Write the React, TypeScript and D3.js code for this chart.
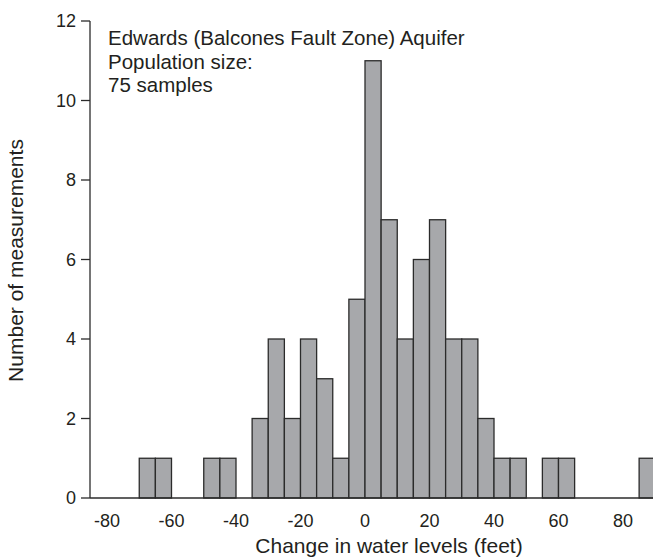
import React from "react";
import * as d3 from "d3";

const binStarts = [-70, -65, -50, -45, -35, -30, -25, -20, -15, -10, -5, 0, 5, 10, 15, 20, 25, 30, 35, 40, 45, 55, 60, 85];
const counts = [1, 1, 1, 1, 2, 4, 2, 4, 3, 1, 5, 11, 7, 4, 6, 7, 4, 4, 2, 1, 1, 1, 1, 1];
const binWidth = 5;
const xTicks = [-80, -60, -40, -20, 0, 20, 40, 60, 80];
const yTicks = [0, 2, 4, 6, 8, 10, 12];
const annotation = ["Edwards (Balcones Fault Zone) Aquifer", "Population size:", "75 samples"];

export default function App() {
  const W = 653, H = 558;
  const axisX = 90;
  const x = d3.scaleLinear().domain([0, 80]).range([365, 623]);
  const y = d3.scaleLinear().domain([0, 12]).range([498, 21]);
  const font = "'Liberation Sans', Arial, sans-serif";
  const ink = "#231f20";
  return (
    <svg width={W} height={H} style={{ position: "absolute", left: 0, top: 0 }} fontFamily={font}>
      <rect width={W} height={H} fill="#fff" />
      {binStarts.map((s, i) => (
        <rect key={i} x={x(s)} y={y(counts[i])} width={x(s + binWidth) - x(s)} height={y(0) - y(counts[i])}
          fill="#a7a8ab" stroke="#2b2b2b" strokeWidth={1.3} />
      ))}
      <line x1={axisX} x2={W} y1={y(0)} y2={y(0)} stroke="#2b2b2b" strokeWidth={1.3} />
      <line x1={axisX} x2={axisX} y1={y(12)} y2={y(0)} stroke="#2b2b2b" strokeWidth={1.3} />
      {yTicks.map(t => (
        <g key={t}>
          <line x1={axisX - 9} x2={axisX} y1={y(t)} y2={y(t)} stroke="#2b2b2b" strokeWidth={1.3} />
          <text x={76} y={y(t)} dy="0.35em" textAnchor="end" fontSize={18} fill={ink}>{t}</text>
        </g>
      ))}
      {xTicks.map(t => (
        <text key={t} x={x(t)} y={527} textAnchor="middle" fontSize={18} fill={ink}>{t}</text>
      ))}
      <text x={389} y={553} textAnchor="middle" fontSize={21} fill={ink}>Change in water levels (feet)</text>
      <text transform={`translate(23,260.5) rotate(-90)`} textAnchor="middle" fontSize={21} fill={ink}>Number of measurements</text>
      {annotation.map((a, i) => (
        <text key={i} x={108} y={45 + i * 23.5} fontSize={20.5} fill={ink}>{a}</text>
      ))}
    </svg>
  );
}
